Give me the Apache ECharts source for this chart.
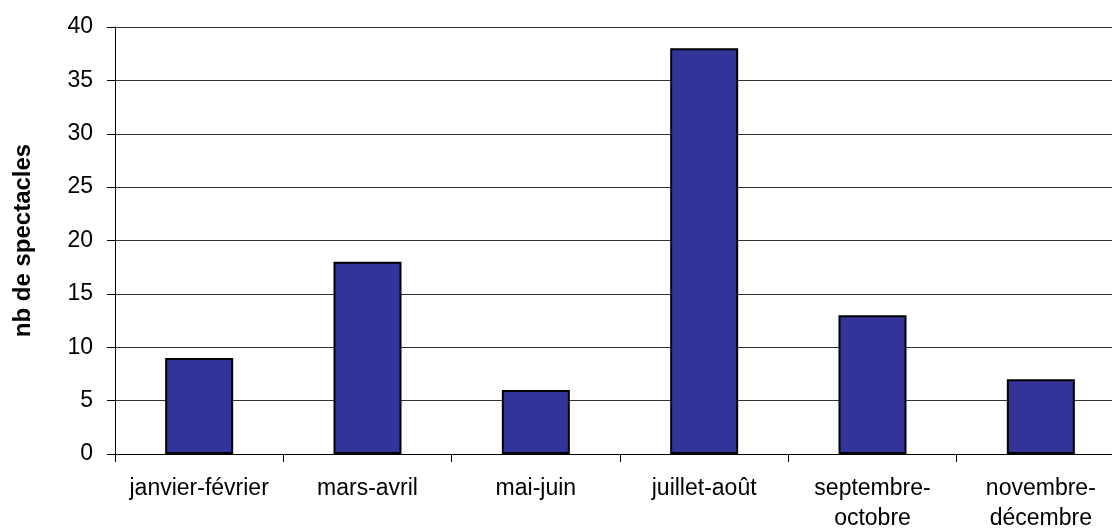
<!DOCTYPE html>
<html><head><meta charset="utf-8">
<script src="https://cdn.jsdelivr.net/npm/echarts@6/dist/echarts.min.js"></script>
<style>html,body{margin:0;padding:0;background:#fff;overflow:hidden}#c{width:1112px;height:531px}</style>
</head><body><div id="c"></div>
<script>
const categories = ['janvier-février', 'mars-avril', 'mai-juin', 'juillet-août', 'septembre-\noctobre', 'novembre-\ndécembre'];
const values = [9, 18, 6, 38, 13, 7];
const yTicks = { min: 0, max: 40, interval: 5 };

const FONT = 'Liberation Sans, Arial, sans-serif';
const chart = echarts.init(document.getElementById('c'), null, { renderer: 'canvas' });
chart.setOption({
  animation: false,
  backgroundColor: '#ffffff',
  grid: { left: 115, top: 27, width: 1010, height: 427, containLabel: false, outerBoundsMode: 'none' },
  xAxis: {
    type: 'category',
    data: categories,
    boundaryGap: true,
    axisLine: { show: true, lineStyle: { color: '#000', width: 1 } },
    axisTick: { show: true, alignWithLabel: false, length: 8, lineStyle: { color: '#000' } },
    axisLabel: { color: '#000', fontFamily: FONT, fontSize: 23, margin: 20, lineHeight: 30, interval: 0, hideOverlap: false }
  },
  yAxis: {
    type: 'value',
    min: yTicks.min, max: yTicks.max, interval: yTicks.interval,
    name: 'nb de spectacles',
    nameLocation: 'middle',
    nameGap: 80,
    nameRotate: 90,
    nameTextStyle: { color: '#000', fontFamily: FONT, fontSize: 24, fontWeight: 'bold' },
    axisLine: { show: true, lineStyle: { color: '#000', width: 1 } },
    axisTick: { show: true, length: 8, lineStyle: { color: '#000' } },
    axisLabel: { color: '#000', fontFamily: FONT, fontSize: 23, margin: 22 },
    splitLine: { show: true, lineStyle: { color: '#333', width: 1 } }
  },
  series: [{
    type: 'bar',
    data: values,
    barWidth: 68,
    itemStyle: { color: '#333399', borderColor: '#000', borderWidth: 2 }
  }]
});
</script></body></html>
